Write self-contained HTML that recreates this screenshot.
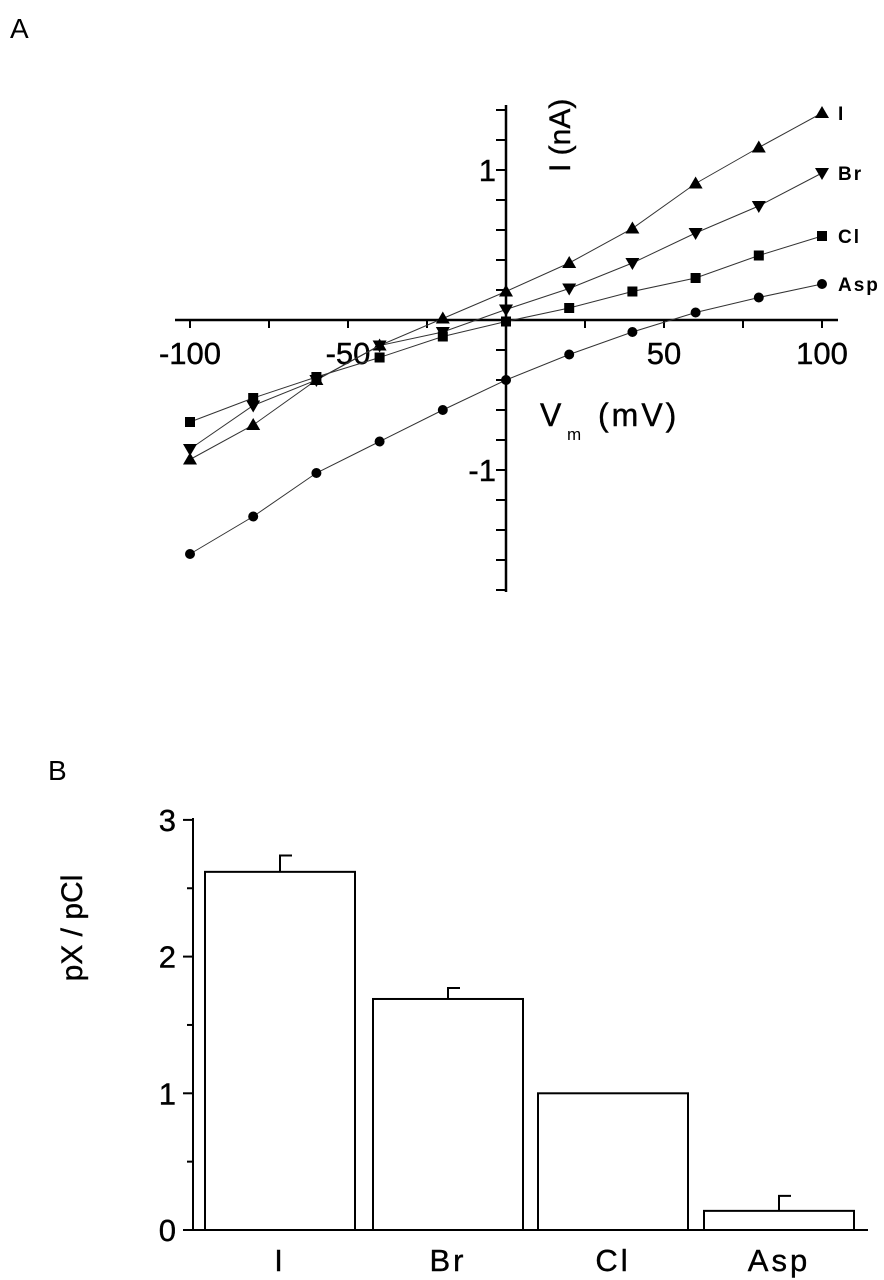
<!DOCTYPE html>
<html><head><meta charset="utf-8"><style>
body{margin:0;background:#fff;}
svg{display:block;font-family:"Liberation Sans",Arial,sans-serif;}
</style></head><body>
<svg id="chart" width="884" height="1280" viewBox="0 0 884 1280" xmlns="http://www.w3.org/2000/svg">
<text x="10" y="38" font-size="28">A</text>
<text x="48" y="780" font-size="28">B</text>
<g id="pa"></g>
<g id="pb"></g>
</svg>
<script>
// Panel A data
const voltages = [-100,-80,-60,-40,-20,0,20,40,60,80,100];
const seriesNames = ["I","Br","Cl","Asp"];
const currentI  = [-0.93,-0.70,-0.40,-0.17,0.01,0.19,0.38,0.61,0.91,1.15,1.38];
const currentBr = [-0.86,-0.57,-0.40,-0.17,-0.08,0.07,0.21,0.38,0.58,0.76,0.98];
const currentCl = [-0.68,-0.52,-0.38,-0.25,-0.11,-0.01,0.08,0.19,0.28,0.43,0.56];
const currentAsp= [-1.56,-1.31,-1.02,-0.81,-0.60,-0.40,-0.23,-0.08,0.05,0.15,0.24];
const xTickLabels = [-100,-50,50,100];
const yTickLabels = [1,-1];
// Panel B data
const ions = ["I","Br","Cl","Asp"];
const ratios = [2.62,1.69,1.00,0.14];
const errors = [0.12,0.08,0,0.11];
const bTicks = [0,1,2,3];

const NS="http://www.w3.org/2000/svg";
function mk(parent,tag,attrs,text){const e=document.createElementNS(NS,tag);for(const k in attrs)e.setAttribute(k,attrs[k]);if(text!==undefined)e.textContent=text;parent.appendChild(e);return e;}

const pa=document.getElementById('pa');
const xA=v=>506+v*3.16;
const yA=c=>320-c*150;
let e=mk(pa,'line',{x1:175,y1:320,x2:838,y2:320,stroke:'#000','stroke-width':2.5});

e=mk(pa,'line',{x1:506,y1:105,x2:506,y2:592,stroke:'#000','stroke-width':2.5});

for(let v=-100;v<=100;v+=25){if(v===0)continue;e=mk(pa,'line',{x1:xA(v),y1:320,x2:xA(v),y2:328,stroke:'#000','stroke-width':2});
}
for(let c=-1.8;c<=1.41;c+=0.2){if(Math.abs(c)<0.01)continue;e=mk(pa,'line',{x1:496,y1:yA(c),x2:506,y2:yA(c),stroke:'#000','stroke-width':2});
}
xTickLabels.forEach(v=>{e=mk(pa,'text',{x:xA(v),y:364,'font-size':31,'text-anchor':'middle','stroke':'#000','stroke-width':0.4},String(v));
});
yTickLabels.forEach(v=>{e=mk(pa,'text',{x:496,y:yA(v)+11,'font-size':31,'text-anchor':'end','stroke':'#000','stroke-width':0.4},String(v));
});
e=mk(pa,'text',{x:0,y:0,'font-size':30,transform:'translate(570,172) rotate(-90)','stroke':'#000','stroke-width':0.4},'I (nA)');

e=mk(pa,'text',{x:540,y:426,'font-size':32,'stroke':'#000','stroke-width':0.4},'V');

mk(pa,'text',{x:567,y:440,'font-size':17},'m');
mk(pa,'text',{x:598,y:426,'font-size':32,'letter-spacing':'3','stroke':'#000','stroke-width':0.4},'(mV)');
const allSeries=[currentI,currentBr,currentCl,currentAsp];
allSeries.forEach((s,si)=>{
  const g=mk(pa,'g',{});
  
  const pts=s.map((c,i)=>xA(voltages[i])+','+yA(c)).join(' ');
  mk(g,'polyline',{points:pts,fill:'none',stroke:'#333','stroke-width':1});
  s.forEach((c,i)=>{const x=xA(voltages[i]),y=yA(c);let m;
    if(si===0)m=mk(g,'polygon',{points:`${x},${y-7} ${x-7},${y+5} ${x+7},${y+5}`});
    else if(si===1)m=mk(g,'polygon',{points:`${x},${y+7} ${x-7},${y-5} ${x+7},${y-5}`});
    else if(si===2)m=mk(g,'rect',{x:x-5,y:y-5,width:10,height:10});
    else m=mk(g,'circle',{cx:x,cy:y,r:5});
    });
  const last=s[s.length-1];
  e=mk(g,'text',{x:838,y:yA(last)+7,'font-size':19,'font-weight':'bold','letter-spacing':'2'},seriesNames[si]);
  
});

// Panel B
const pb=document.getElementById('pb');
const yB=v=>1230-v*136.7;
const barL=[205,373,538,704],barW=150;
ions.forEach((n,i)=>{
  const x=barL[i];
  e=mk(pb,'rect',{x:x,y:yB(ratios[i]),width:barW,height:1230-yB(ratios[i]),fill:'#fff',stroke:'#000','stroke-width':2});
  
  if(errors[i]>0){const cx=x+barW/2,yt=yB(ratios[i]+errors[i]);
    e=mk(pb,'path',{d:`M${cx},${yB(ratios[i])} V${yt} H${cx+12}`,stroke:'#000','stroke-width':2,fill:'none'});
    }
  e=mk(pb,'text',{x:x+barW/2,y:1271,'font-size':31,'text-anchor':'middle','letter-spacing':'3','stroke':'#000','stroke-width':0.4},n);
  
});
e=mk(pb,'line',{x1:193,y1:1230,x2:868,y2:1230,stroke:'#000','stroke-width':2});

e=mk(pb,'line',{x1:193,y1:818,x2:193,y2:1231,stroke:'#000','stroke-width':2});

for(let v=0;v<=3.001;v+=0.5){e=mk(pb,'line',{x1:v%1===0?183:187,y1:yB(v),x2:193,y2:yB(v),stroke:'#000','stroke-width':2});
}
bTicks.forEach(v=>{e=mk(pb,'text',{x:176,y:yB(v)+11,'font-size':31,'text-anchor':'end','stroke':'#000','stroke-width':0.4},String(v));
});
e=mk(pb,'text',{x:0,y:0,'font-size':30,'text-anchor':'middle',transform:'translate(82,928) rotate(-90)','stroke':'#000','stroke-width':0.4},'pX / pCl');

</script>
</body></html>
